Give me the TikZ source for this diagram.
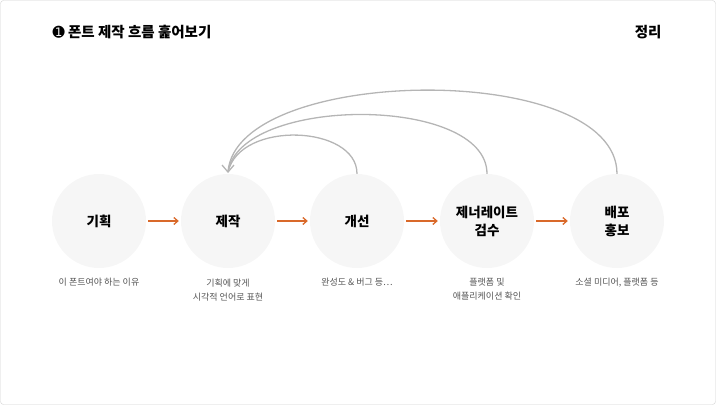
\documentclass[tikz,border=0pt]{standalone}
\usepackage{fontspec}
\setmainfont{Noto Sans CJK KR}
\newfontfamily\dej{DejaVu Sans}
\usetikzlibrary{arrows.meta}
\definecolor{circ}{HTML}{F6F6F6}
\definecolor{org}{HTML}{D9692A}
\definecolor{arc}{HTML}{B5B5B5}
\definecolor{sub}{HTML}{555555}
\begin{document}
\begin{tikzpicture}[x=1pt,y=-1pt,
  stage/.style={circle,fill=circ,minimum size=94pt,inner sep=0pt,align=center,font=\fontsize{13.5}{18}\selectfont\bfseries},
  note/.style={align=center,text=sub,font=\fontsize{9}{14}\selectfont,anchor=north},
  flow/.style={org,line width=1.3pt,-{Straight Barb[length=4pt,width=7pt]}},
  back/.style={arc,line width=1.3pt}]
\useasboundingbox (0,0) rectangle (716,405);
\draw[gray!35,rounded corners=3pt] (0.5,0.5) rectangle (715.5,404.5);
\node[anchor=west,font=\fontsize{14.5}{17}\selectfont\bfseries] (title) at (49,32) {{\dej\char"278A}\ 폰트 제작 흐름 훑어보기};
\node[anchor=east,font=\fontsize{14.5}{17}\selectfont\bfseries] (sum) at (665,32) {정리};
\node[stage] (a) at (99,221) {기획};
\node[stage] (b) at (228,221) {제작};
\node[stage] (c) at (357,221) {개선};
\node[stage] (d) at (487,221) {제너레이트\\검수};
\node[stage] (e) at (617,221) {배포\\홍보};
\foreach \s/\t in {a/b,b/c,c/d,d/e}{\draw[flow] ([xshift=2pt]\s.east) -- ([xshift=-2pt]\t.west);}
\node[note] (na) at (99,275) {이 폰트여야 하는 이유};
\node[note] (nb) at (228,275) {기획에 맞게\\시각적 언어로 표현};
\node[note] (nc) at (357,275) {완성도 \& 버그 등…};
\node[note] (nd) at (487,275) {플랫폼 및\\애플리케이션 확인};
\node[note] (ne) at (617,275) {소셜 미디어, 플랫폼 등};
\coordinate (tip) at (228,172);
\draw[back] (c.north) .. controls (357,125) and (240,120) .. (tip);
\draw[back] (d.north) .. controls (487,95) and (240,95) .. (tip);
\draw[back] (e.north) .. controls (617,60) and (236,65) .. (tip);
\draw[back] (222,165) -- (tip) -- (234,165);
\end{tikzpicture}
\end{document}
